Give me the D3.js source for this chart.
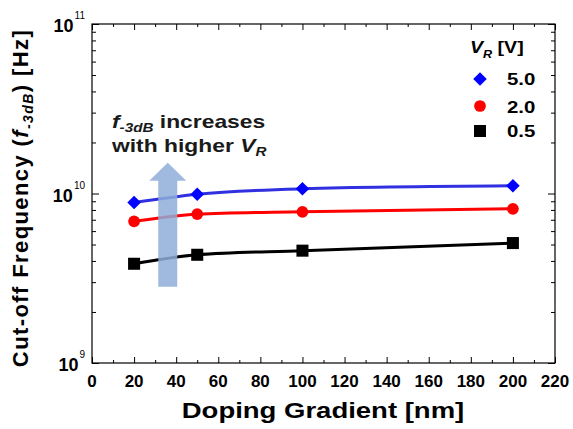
<!DOCTYPE html>
<html>
<head>
<meta charset="utf-8">
<script src="https://cdn.jsdelivr.net/npm/d3@7"></script>
<style>
  body { margin: 0; background: #fff; }
  text { font-family: "Liberation Sans", Arial, sans-serif; }
</style>
</head>
<body>
<div id="chart"></div>
<script>
// data
let gradients = [20, 50, 100, 200];
let vr50 = [8.85e9, 9.9e9, 1.066e10, 1.11e10];
let vr20 = [6.85e9, 7.55e9, 7.8e9, 8.12e9];
let vr05 = [3.85e9, 4.35e9, 4.6e9, 5.1e9];
let seriesNames = ["5.0", "2.0", "0.5"];
let xTicks = [0, 20, 40, 60, 80, 100, 120, 140, 160, 180, 200, 220];
let yDecades = [9, 10, 11];

let width = 573, height = 429;
let margin = {left: 92, right: 18, top: 24, bottom: 66};

let svg = d3.select("#chart").append("svg")
  .attr("width", width)
  .attr("height", height);

let xScale = d3.scaleLinear().domain([0, 220]).range([margin.left, width - margin.right]);
let yScale = d3.scaleLog().domain([1e9, 1e11]).range([height - margin.bottom, margin.top]);

let x0 = xScale.range()[0], x1 = xScale.range()[1];
let y0 = yScale.range()[0], y1 = yScale.range()[1];

// minor ticks
let xMinor = d3.range(10, 220, 20);
let yMinor = [];
[1e9, 1e10].forEach(d => { for (let k = 2; k <= 9; k++) yMinor.push(d * k); });
let yMajor = yDecades.map(e => Math.pow(10, e));

function tickAxis(axis, pos, vals, size) {
  svg.append("g")
    .attr("transform", pos)
    .call(axis.tickValues(vals).tickSize(-size).tickFormat(""))
    .call(g => g.select(".domain").remove());
}
tickAxis(d3.axisBottom(xScale), "translate(0," + y0 + ")", xTicks, 6);
tickAxis(d3.axisBottom(xScale), "translate(0," + y0 + ")", xMinor, 3);
tickAxis(d3.axisTop(xScale), "translate(0," + y1 + ")", xTicks, 6);
tickAxis(d3.axisTop(xScale), "translate(0," + y1 + ")", xMinor, 3);
tickAxis(d3.axisLeft(yScale), "translate(" + x0 + ",0)", yMajor, 7);
tickAxis(d3.axisLeft(yScale), "translate(" + x0 + ",0)", yMinor, 4);
tickAxis(d3.axisRight(yScale), "translate(" + x1 + ",0)", yMajor, 7);
tickAxis(d3.axisRight(yScale), "translate(" + x1 + ",0)", yMinor, 4);

svg.selectAll(".tick line").attr("stroke", "#000").attr("stroke-width", 1);

// frame
svg.append("rect")
  .attr("x", x0).attr("y", y1)
  .attr("width", x1 - x0).attr("height", y0 - y1)
  .attr("fill", "none").attr("stroke", "#000").attr("stroke-width", 1.2);

// text that is drawn a bit wider than the font, like the original
function wideText(x, y, sx) {
  return svg.append("text")
    .attr("transform", "translate(" + x + "," + y + ") scale(" + sx + ",1)");
}

// x tick labels
svg.append("g").selectAll("text")
  .data(xTicks).enter().append("text")
  .attr("x", d => xScale(d))
  .attr("y", y0 + 24)
  .attr("text-anchor", "middle")
  .attr("font-size", 17).attr("font-weight", "bold")
  .text(d => d);

// y tick labels (10^n)
let yLbl = svg.append("g").selectAll("text")
  .data(yDecades).enter().append("text")
  .attr("x", x0 - 7)
  .attr("y", d => yScale(Math.pow(10, d)) + 8)
  .attr("text-anchor", "end")
  .attr("font-size", 18).attr("font-weight", "bold");
yLbl.append("tspan").text("10");
yLbl.append("tspan").attr("dx", 1).attr("dy", -13).attr("font-size", 10).attr("font-weight", "normal").text(d => d);

// axis titles
wideText(323, 418, 1.25)
  .attr("text-anchor", "middle")
  .attr("font-size", 22).attr("font-weight", "bold")
  .text("Doping Gradient [nm]");

let yt = svg.append("text")
  .attr("transform", "translate(28,198) rotate(-90)")
  .attr("text-anchor", "middle")
  .attr("font-size", 22).attr("font-weight", "bold")
  .attr("letter-spacing", 1.4);
yt.append("tspan").text("Cut-off Frequency (");
yt.append("tspan").attr("font-style", "italic").text("f");
yt.append("tspan").attr("font-style", "italic").attr("font-size", 14).attr("dy", 5).text("-3dB");
yt.append("tspan").attr("dy", -5).text(") [Hz]");

// series
let diamond = {draw: (ctx, size) => {
  let r = Math.sqrt(size / 2);
  ctx.moveTo(0, -r); ctx.lineTo(r, 0); ctx.lineTo(0, r); ctx.lineTo(-r, 0); ctx.closePath();
}};
let series = [
  {name: seriesNames[0], values: vr50, line: "#3030e0", fill: "#0000ff", shape: diamond, size: 92},
  {name: seriesNames[1], values: vr20, line: "#ff0000", fill: "#ff0000", shape: d3.symbolCircle, size: 108},
  {name: seriesNames[2], values: vr05, line: "#000000", fill: "#000000", shape: d3.symbolSquare, size: 145}
];

let line = d3.line()
  .x((d, i) => xScale(gradients[i]))
  .y(d => yScale(d))
  .curve(d3.curveMonotoneX);

series.forEach(s => {
  svg.append("path")
    .datum(s.values)
    .attr("d", line)
    .attr("fill", "none")
    .attr("stroke", s.line)
    .attr("stroke-width", 3);
  svg.append("g").selectAll("path")
    .data(s.values).enter().append("path")
    .attr("transform", (d, i) => "translate(" + xScale(gradients[i]) + "," + yScale(d) + ")")
    .attr("d", d3.symbol().type(s.shape).size(s.size))
    .attr("fill", s.fill);
});

// arrow annotation
let ax = xScale(36);
let arrow = d3.path();
arrow.moveTo(ax - 9.5, yScale(2.82e9));
arrow.lineTo(ax - 9.5, yScale(1.19e10));
arrow.lineTo(ax - 18.5, yScale(1.19e10));
arrow.lineTo(ax, yScale(1.52e10));
arrow.lineTo(ax + 18.5, yScale(1.19e10));
arrow.lineTo(ax + 9.5, yScale(1.19e10));
arrow.lineTo(ax + 9.5, yScale(2.82e9));
arrow.closePath();
svg.append("path")
  .attr("d", arrow.toString())
  .attr("fill", "#8eaed8")
  .attr("opacity", 0.85);

let n1 = wideText(112, 128, 1.27)
  .attr("font-size", 18).attr("font-weight", "bold").attr("fill", "#1a1a1a");
n1.append("tspan").attr("font-style", "italic").text("f");
n1.append("tspan").attr("font-style", "italic").attr("font-size", 12).attr("dy", 4).text("-3dB");
n1.append("tspan").attr("dy", -4).text(" increases");
let n2 = wideText(112, 152, 1.27)
  .attr("font-size", 18).attr("font-weight", "bold").attr("fill", "#1a1a1a");
n2.append("tspan").text("with higher ");
n2.append("tspan").attr("font-style", "italic").text("V");
n2.append("tspan").attr("font-style", "italic").attr("font-size", 12).attr("dy", 4).text("R");

// legend
let lg = wideText(470, 53, 1.15)
  .attr("font-size", 17).attr("font-weight", "bold");
lg.append("tspan").attr("font-style", "italic").text("V");
lg.append("tspan").attr("font-style", "italic").attr("font-size", 11).attr("dy", 5).text("R");
lg.append("tspan").attr("dy", -5).text(" [V]");

let legendY = [79, 106, 131];
let legendText = [85, 113, 137];
series.forEach((s, i) => {
  svg.append("path")
    .attr("transform", "translate(480," + legendY[i] + ")")
    .attr("d", d3.symbol().type(s.shape).size(s.size))
    .attr("fill", s.fill);
  wideText(507, legendText[i], 1.2)
    .attr("font-size", 17).attr("font-weight", "bold")
    .text(s.name);
});
</script>
</body>
</html>
